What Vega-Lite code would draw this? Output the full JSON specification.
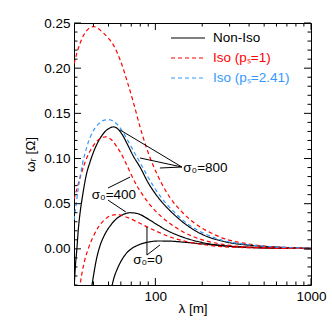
{
  "$schema": "https://vega.github.io/schema/vega-lite/v6.json",
  "width": 237,
  "height": 262,
  "autosize": {"type": "none"},
  "padding": {"left": 74, "top": 23, "right": 21, "bottom": 47},
  "background": "white",
  "datasets": {
    "xmajor": [{"v": 100}, {"v": 1000}],
    "xminor": [{"v": 40}, {"v": 50}, {"v": 60}, {"v": 70}, {"v": 80}, {"v": 90}, {"v": 200}, {"v": 300}, {"v": 400}, {"v": 500}, {"v": 600}, {"v": 700}, {"v": 800}, {"v": 900}],
    "ymajor": [{"v": 0}, {"v": 0.05}, {"v": 0.1}, {"v": 0.15}, {"v": 0.2}, {"v": 0.25}],
    "yminor": [{"v": -0.04}, {"v": -0.03}, {"v": -0.02}, {"v": -0.01}, {"v": 0.01}, {"v": 0.02}, {"v": 0.03}, {"v": 0.04}, {"v": 0.06}, {"v": 0.07}, {"v": 0.08}, {"v": 0.09}, {"v": 0.11}, {"v": 0.12}, {"v": 0.13}, {"v": 0.14}, {"v": 0.16}, {"v": 0.17}, {"v": 0.18}, {"v": 0.19}, {"v": 0.21}, {"v": 0.22}, {"v": 0.23}, {"v": 0.24}]
  },
  "layer": [
    {
      "data": {"values": [
        {"curve":"n800","series":"Non-Iso","lam":30,"w":-0.045},{"curve":"n800","series":"Non-Iso","lam":30.6,"w":-0.02},{"curve":"n800","series":"Non-Iso","lam":31.3,"w":0.0},{"curve":"n800","series":"Non-Iso","lam":32,"w":0.022},{"curve":"n800","series":"Non-Iso","lam":33,"w":0.043},{"curve":"n800","series":"Non-Iso","lam":34,"w":0.058},{"curve":"n800","series":"Non-Iso","lam":36,"w":0.082},{"curve":"n800","series":"Non-Iso","lam":38,"w":0.096},{"curve":"n800","series":"Non-Iso","lam":40,"w":0.107},{"curve":"n800","series":"Non-Iso","lam":43,"w":0.119},{"curve":"n800","series":"Non-Iso","lam":46,"w":0.127},{"curve":"n800","series":"Non-Iso","lam":50,"w":0.133},{"curve":"n800","series":"Non-Iso","lam":54,"w":0.135},{"curve":"n800","series":"Non-Iso","lam":58,"w":0.132},{"curve":"n800","series":"Non-Iso","lam":62,"w":0.125},{"curve":"n800","series":"Non-Iso","lam":66,"w":0.116},{"curve":"n800","series":"Non-Iso","lam":72,"w":0.103},{"curve":"n800","series":"Non-Iso","lam":80,"w":0.09},{"curve":"n800","series":"Non-Iso","lam":90,"w":0.073},{"curve":"n800","series":"Non-Iso","lam":100,"w":0.061},{"curve":"n800","series":"Non-Iso","lam":110,"w":0.052},{"curve":"n800","series":"Non-Iso","lam":130,"w":0.039},{"curve":"n800","series":"Non-Iso","lam":160,"w":0.026},{"curve":"n800","series":"Non-Iso","lam":200,"w":0.016},{"curve":"n800","series":"Non-Iso","lam":270,"w":0.0085},{"curve":"n800","series":"Non-Iso","lam":400,"w":0.004},{"curve":"n800","series":"Non-Iso","lam":600,"w":0.002},{"curve":"n800","series":"Non-Iso","lam":1000,"w":0.0007},
        {"curve":"n400","series":"Non-Iso","lam":38.8,"w":-0.045},{"curve":"n400","series":"Non-Iso","lam":40,"w":-0.03},{"curve":"n400","series":"Non-Iso","lam":42,"w":-0.01},{"curve":"n400","series":"Non-Iso","lam":44,"w":0.003},{"curve":"n400","series":"Non-Iso","lam":47,"w":0.015},{"curve":"n400","series":"Non-Iso","lam":51,"w":0.025},{"curve":"n400","series":"Non-Iso","lam":56,"w":0.033},{"curve":"n400","series":"Non-Iso","lam":62,"w":0.038},{"curve":"n400","series":"Non-Iso","lam":69,"w":0.04},{"curve":"n400","series":"Non-Iso","lam":77,"w":0.039},{"curve":"n400","series":"Non-Iso","lam":88,"w":0.034},{"curve":"n400","series":"Non-Iso","lam":100,"w":0.028},{"curve":"n400","series":"Non-Iso","lam":120,"w":0.02},{"curve":"n400","series":"Non-Iso","lam":150,"w":0.013},{"curve":"n400","series":"Non-Iso","lam":200,"w":0.007},{"curve":"n400","series":"Non-Iso","lam":270,"w":0.0035},{"curve":"n400","series":"Non-Iso","lam":400,"w":0.0015},{"curve":"n400","series":"Non-Iso","lam":1000,"w":0.0003},
        {"curve":"n0","series":"Non-Iso","lam":52,"w":-0.045},{"curve":"n0","series":"Non-Iso","lam":54,"w":-0.033},{"curve":"n0","series":"Non-Iso","lam":57,"w":-0.022},{"curve":"n0","series":"Non-Iso","lam":60,"w":-0.014},{"curve":"n0","series":"Non-Iso","lam":65,"w":-0.005},{"curve":"n0","series":"Non-Iso","lam":70,"w":0.0},{"curve":"n0","series":"Non-Iso","lam":77,"w":0.004},{"curve":"n0","series":"Non-Iso","lam":90,"w":0.0075},{"curve":"n0","series":"Non-Iso","lam":105,"w":0.0087},{"curve":"n0","series":"Non-Iso","lam":125,"w":0.0085},{"curve":"n0","series":"Non-Iso","lam":150,"w":0.0075},{"curve":"n0","series":"Non-Iso","lam":200,"w":0.0055},{"curve":"n0","series":"Non-Iso","lam":270,"w":0.0035},{"curve":"n0","series":"Non-Iso","lam":400,"w":0.0018},{"curve":"n0","series":"Non-Iso","lam":600,"w":0.0009},{"curve":"n0","series":"Non-Iso","lam":1000,"w":0.0003},
        {"curve":"rA","series":"Iso (pₛ=1)","lam":30,"w":0.205},{"curve":"rA","series":"Iso (pₛ=1)","lam":32,"w":0.222},{"curve":"rA","series":"Iso (pₛ=1)","lam":34,"w":0.234},{"curve":"rA","series":"Iso (pₛ=1)","lam":36,"w":0.241},{"curve":"rA","series":"Iso (pₛ=1)","lam":38,"w":0.245},{"curve":"rA","series":"Iso (pₛ=1)","lam":40,"w":0.246},{"curve":"rA","series":"Iso (pₛ=1)","lam":42,"w":0.245},{"curve":"rA","series":"Iso (pₛ=1)","lam":45,"w":0.241},{"curve":"rA","series":"Iso (pₛ=1)","lam":50,"w":0.233},{"curve":"rA","series":"Iso (pₛ=1)","lam":54,"w":0.225},{"curve":"rA","series":"Iso (pₛ=1)","lam":60,"w":0.207},{"curve":"rA","series":"Iso (pₛ=1)","lam":66,"w":0.185},{"curve":"rA","series":"Iso (pₛ=1)","lam":72,"w":0.163},{"curve":"rA","series":"Iso (pₛ=1)","lam":80,"w":0.134},{"curve":"rA","series":"Iso (pₛ=1)","lam":88,"w":0.111},{"curve":"rA","series":"Iso (pₛ=1)","lam":97,"w":0.092},{"curve":"rA","series":"Iso (pₛ=1)","lam":110,"w":0.072},{"curve":"rA","series":"Iso (pₛ=1)","lam":125,"w":0.056},{"curve":"rA","series":"Iso (pₛ=1)","lam":150,"w":0.04},{"curve":"rA","series":"Iso (pₛ=1)","lam":180,"w":0.028},{"curve":"rA","series":"Iso (pₛ=1)","lam":220,"w":0.019},{"curve":"rA","series":"Iso (pₛ=1)","lam":280,"w":0.011},{"curve":"rA","series":"Iso (pₛ=1)","lam":380,"w":0.006},{"curve":"rA","series":"Iso (pₛ=1)","lam":550,"w":0.0025},{"curve":"rA","series":"Iso (pₛ=1)","lam":1000,"w":0.0008},
        {"curve":"rB","series":"Iso (pₛ=1)","lam":30,"w":0.055},{"curve":"rB","series":"Iso (pₛ=1)","lam":31.5,"w":0.068},{"curve":"rB","series":"Iso (pₛ=1)","lam":33,"w":0.08},{"curve":"rB","series":"Iso (pₛ=1)","lam":35,"w":0.094},{"curve":"rB","series":"Iso (pₛ=1)","lam":38,"w":0.108},{"curve":"rB","series":"Iso (pₛ=1)","lam":41,"w":0.117},{"curve":"rB","series":"Iso (pₛ=1)","lam":45,"w":0.123},{"curve":"rB","series":"Iso (pₛ=1)","lam":48,"w":0.124},{"curve":"rB","series":"Iso (pₛ=1)","lam":52,"w":0.121},{"curve":"rB","series":"Iso (pₛ=1)","lam":56,"w":0.114},{"curve":"rB","series":"Iso (pₛ=1)","lam":60,"w":0.106},{"curve":"rB","series":"Iso (pₛ=1)","lam":65,"w":0.094},{"curve":"rB","series":"Iso (pₛ=1)","lam":70,"w":0.082},{"curve":"rB","series":"Iso (pₛ=1)","lam":76,"w":0.07},{"curve":"rB","series":"Iso (pₛ=1)","lam":85,"w":0.057},{"curve":"rB","series":"Iso (pₛ=1)","lam":100,"w":0.042},{"curve":"rB","series":"Iso (pₛ=1)","lam":120,"w":0.03},{"curve":"rB","series":"Iso (pₛ=1)","lam":150,"w":0.019},{"curve":"rB","series":"Iso (pₛ=1)","lam":200,"w":0.01},{"curve":"rB","series":"Iso (pₛ=1)","lam":270,"w":0.005},{"curve":"rB","series":"Iso (pₛ=1)","lam":400,"w":0.002},{"curve":"rB","series":"Iso (pₛ=1)","lam":1000,"w":0.0005},
        {"curve":"rC","series":"Iso (pₛ=1)","lam":32.5,"w":-0.045},{"curve":"rC","series":"Iso (pₛ=1)","lam":33.5,"w":-0.03},{"curve":"rC","series":"Iso (pₛ=1)","lam":35,"w":-0.014},{"curve":"rC","series":"Iso (pₛ=1)","lam":37,"w":0.0},{"curve":"rC","series":"Iso (pₛ=1)","lam":40,"w":0.014},{"curve":"rC","series":"Iso (pₛ=1)","lam":43,"w":0.024},{"curve":"rC","series":"Iso (pₛ=1)","lam":47,"w":0.032},{"curve":"rC","series":"Iso (pₛ=1)","lam":52,"w":0.037},{"curve":"rC","series":"Iso (pₛ=1)","lam":57,"w":0.038},{"curve":"rC","series":"Iso (pₛ=1)","lam":63,"w":0.036},{"curve":"rC","series":"Iso (pₛ=1)","lam":70,"w":0.033},{"curve":"rC","series":"Iso (pₛ=1)","lam":80,"w":0.028},{"curve":"rC","series":"Iso (pₛ=1)","lam":100,"w":0.02},{"curve":"rC","series":"Iso (pₛ=1)","lam":130,"w":0.012},{"curve":"rC","series":"Iso (pₛ=1)","lam":170,"w":0.007},{"curve":"rC","series":"Iso (pₛ=1)","lam":230,"w":0.0035},{"curve":"rC","series":"Iso (pₛ=1)","lam":350,"w":0.0015},{"curve":"rC","series":"Iso (pₛ=1)","lam":1000,"w":0.0003},
        {"curve":"b","series":"Iso (pₛ=2.41)","lam":30,"w":0.032},{"curve":"b","series":"Iso (pₛ=2.41)","lam":31,"w":0.05},{"curve":"b","series":"Iso (pₛ=2.41)","lam":32,"w":0.068},{"curve":"b","series":"Iso (pₛ=2.41)","lam":33,"w":0.082},{"curve":"b","series":"Iso (pₛ=2.41)","lam":34,"w":0.094},{"curve":"b","series":"Iso (pₛ=2.41)","lam":36,"w":0.111},{"curve":"b","series":"Iso (pₛ=2.41)","lam":38,"w":0.123},{"curve":"b","series":"Iso (pₛ=2.41)","lam":40,"w":0.131},{"curve":"b","series":"Iso (pₛ=2.41)","lam":43,"w":0.138},{"curve":"b","series":"Iso (pₛ=2.41)","lam":46,"w":0.142},{"curve":"b","series":"Iso (pₛ=2.41)","lam":50,"w":0.143},{"curve":"b","series":"Iso (pₛ=2.41)","lam":54,"w":0.141},{"curve":"b","series":"Iso (pₛ=2.41)","lam":58,"w":0.136},{"curve":"b","series":"Iso (pₛ=2.41)","lam":62,"w":0.129},{"curve":"b","series":"Iso (pₛ=2.41)","lam":66,"w":0.121},{"curve":"b","series":"Iso (pₛ=2.41)","lam":72,"w":0.109},{"curve":"b","series":"Iso (pₛ=2.41)","lam":80,"w":0.095},{"curve":"b","series":"Iso (pₛ=2.41)","lam":90,"w":0.079},{"curve":"b","series":"Iso (pₛ=2.41)","lam":100,"w":0.066},{"curve":"b","series":"Iso (pₛ=2.41)","lam":110,"w":0.056},{"curve":"b","series":"Iso (pₛ=2.41)","lam":130,"w":0.042},{"curve":"b","series":"Iso (pₛ=2.41)","lam":160,"w":0.028},{"curve":"b","series":"Iso (pₛ=2.41)","lam":200,"w":0.018},{"curve":"b","series":"Iso (pₛ=2.41)","lam":270,"w":0.0095},{"curve":"b","series":"Iso (pₛ=2.41)","lam":400,"w":0.0045},{"curve":"b","series":"Iso (pₛ=2.41)","lam":600,"w":0.002},{"curve":"b","series":"Iso (pₛ=2.41)","lam":1000,"w":0.0008}
      ]},
      "mark": {"type": "line", "interpolate": "monotone", "clip": true, "strokeWidth": 1.2},
      "encoding": {
        "x": {"field": "lam", "type": "quantitative",
              "scale": {"type": "log", "domain": [30, 1000], "nice": false},
              "axis": {"orient": "bottom", "values": [100, 1000], "format": "d", "ticks": false, "labelPadding": 4, "title": "λ [m]", "titlePadding": -1}},
        "y": {"field": "w", "type": "quantitative",
              "scale": {"domain": [-0.04, 0.25], "nice": false, "zero": false},
              "axis": {"orient": "left", "values": [0, 0.05, 0.1, 0.15, 0.2, 0.25], "format": ".2f", "ticks": false, "labelPadding": 4, "title": "ωᵣ [Ω]", "titlePadding": 6}},
        "color": {"field": "series", "type": "nominal",
                  "scale": {"domain": ["Non-Iso", "Iso (pₛ=1)", "Iso (pₛ=2.41)"], "range": ["black", "#ff0000", "#3399ff"]},
                  "legend": {"orient": "none", "legendX": 96, "legendY": 5, "title": null,
                             "encode": {"labels": {"update": {"fill": {"signal": "datum.value === 'Non-Iso' ? 'black' : (datum.value === 'Iso (pₛ=1)' ? '#ff0000' : '#3399ff')"}}}}}},
        "strokeDash": {"field": "series", "type": "nominal",
                  "scale": {"domain": ["Non-Iso", "Iso (pₛ=1)", "Iso (pₛ=2.41)"], "range": [[1, 0], [4, 3], [4, 3]]}},
        "detail": {"field": "curve"}
      }
    },
    {
      "data": {"values": [
        {"lam": 148, "w": 0.0906, "lam2": 59.3, "w2": 0.1316},
        {"lam": 148, "w": 0.0906, "lam2": 79.6, "w2": 0.1006},
        {"lam": 148, "w": 0.0906, "lam2": 107, "w2": 0.0895},
        {"lam": 49.6, "w": 0.0673, "lam2": 68.8, "w2": 0.0795},
        {"lam": 49.6, "w": 0.054, "lam2": 64.6, "w2": 0.0408},
        {"lam": 88.3, "w": 0.0242, "lam2": 88.3, "w2": -0.0068},
        {"lam": 88.3, "w": -0.0068, "lam2": 107, "w2": 0.0043}
      ]},
      "mark": {"type": "rule", "color": "black", "strokeWidth": 1},
      "encoding": {
        "x": {"field": "lam", "type": "quantitative"},
        "x2": {"field": "lam2"},
        "y": {"field": "w", "type": "quantitative"},
        "y2": {"field": "w2"}
      }
    },
    {
      "data": {"values": [
        {"label": "σ₀=800", "lam": 151, "w": 0.0895},
        {"label": "σ₀=400", "lam": 39, "w": 0.0596},
        {"label": "σ₀=0", "lam": 72, "w": -0.0124}
      ]},
      "mark": {"type": "text", "align": "left", "baseline": "middle", "fontSize": 13.5, "font": "Liberation Sans", "color": "black"},
      "encoding": {
        "x": {"field": "lam", "type": "quantitative"},
        "y": {"field": "w", "type": "quantitative"},
        "text": {"field": "label"}
      }
    },
    {
      "mark": {"type": "rule", "color": "black", "strokeWidth": 1, "strokeDash": [4, 3]},
      "encoding": {
        "x": {"datum": 30, "type": "quantitative"},
        "x2": {"datum": 1000},
        "y": {"datum": 0, "type": "quantitative"}
      }
    },
    {"data": {"name": "xmajor"}, "mark": {"type": "rule", "color": "black", "strokeWidth": 1},
     "encoding": {"x": {"field": "v", "type": "quantitative"}, "y": {"datum": -0.04, "type": "quantitative"}, "y2": {"datum": -0.03225}}},
    {"data": {"name": "xmajor"}, "mark": {"type": "rule", "color": "black", "strokeWidth": 1},
     "encoding": {"x": {"field": "v", "type": "quantitative"}, "y": {"datum": 0.25, "type": "quantitative"}, "y2": {"datum": 0.24225}}},
    {"data": {"name": "xminor"}, "mark": {"type": "rule", "color": "black", "strokeWidth": 1},
     "encoding": {"x": {"field": "v", "type": "quantitative"}, "y": {"datum": -0.04, "type": "quantitative"}, "y2": {"datum": -0.0361}}},
    {"data": {"name": "xminor"}, "mark": {"type": "rule", "color": "black", "strokeWidth": 1},
     "encoding": {"x": {"field": "v", "type": "quantitative"}, "y": {"datum": 0.25, "type": "quantitative"}, "y2": {"datum": 0.2461}}},
    {"data": {"name": "ymajor"}, "mark": {"type": "rule", "color": "black", "strokeWidth": 1},
     "encoding": {"y": {"field": "v", "type": "quantitative"}, "x": {"datum": 30, "type": "quantitative"}, "x2": {"datum": 33.27}}},
    {"data": {"name": "ymajor"}, "mark": {"type": "rule", "color": "black", "strokeWidth": 1},
     "encoding": {"y": {"field": "v", "type": "quantitative"}, "x": {"datum": 1000, "type": "quantitative"}, "x2": {"datum": 901.6}}},
    {"data": {"name": "yminor"}, "mark": {"type": "rule", "color": "black", "strokeWidth": 1},
     "encoding": {"y": {"field": "v", "type": "quantitative"}, "x": {"datum": 30, "type": "quantitative"}, "x2": {"datum": 31.59}}},
    {"data": {"name": "yminor"}, "mark": {"type": "rule", "color": "black", "strokeWidth": 1},
     "encoding": {"y": {"field": "v", "type": "quantitative"}, "x": {"datum": 1000, "type": "quantitative"}, "x2": {"datum": 949.5}}}
  ],
  "config": {
    "view": {"stroke": "black", "strokeWidth": 1},
    "axis": {"domain": false, "grid": false, "labelFlush": false, "labelOverlap": false,
             "labelColor": "black", "titleColor": "black",
             "labelFont": "Liberation Sans", "labelFontSize": 13.5, "titleFont": "Liberation Sans", "titleFontSize": 13.5, "titleFontWeight": "normal"},
    "legend": {"symbolType": "stroke", "symbolSize": 1156, "symbolStrokeWidth": 1.2, "labelFont": "Liberation Sans", "labelFontSize": 13.5,
               "labelOffset": 7, "clipHeight": 20, "rowPadding": 0, "padding": 0, "offset": 0, "labelLimit": 200}
  }
}
